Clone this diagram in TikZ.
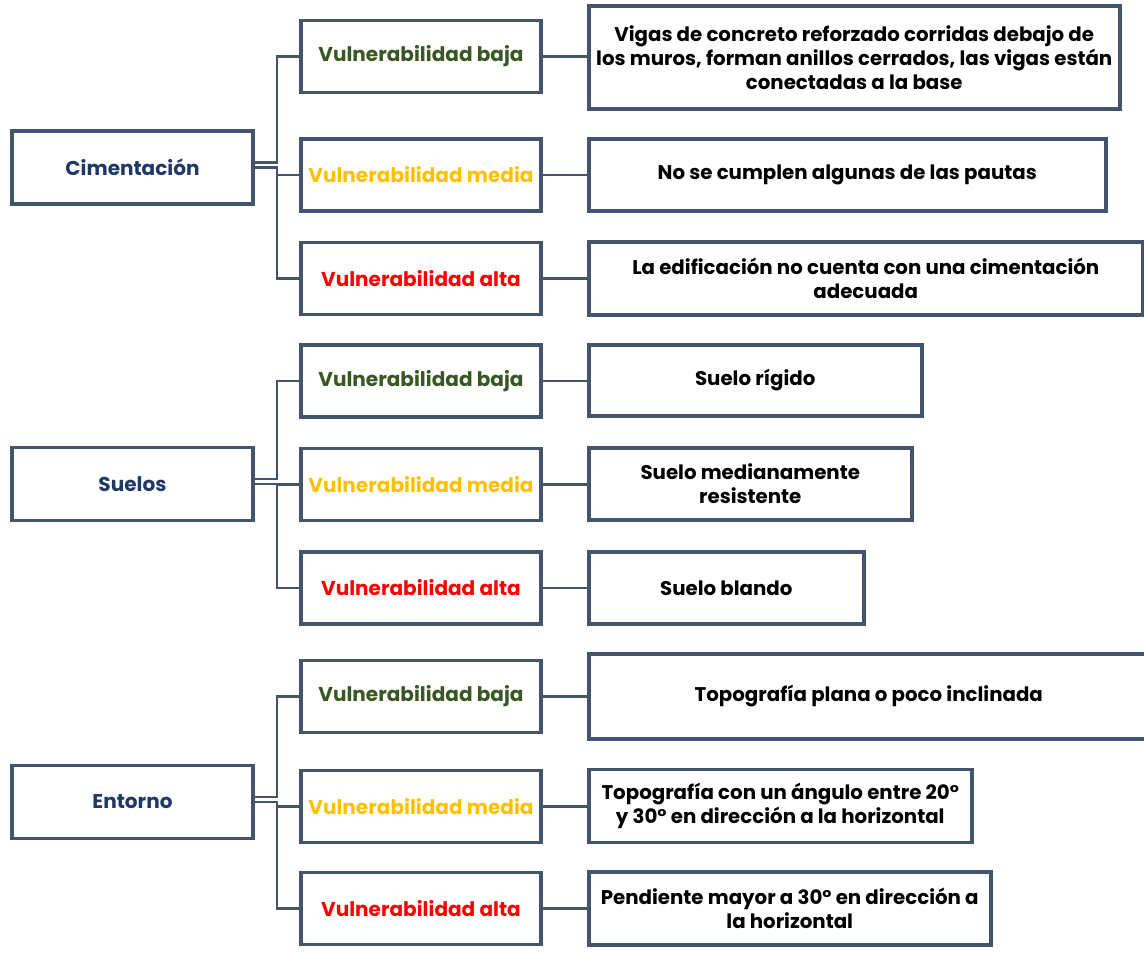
\documentclass[tikz,border=0pt]{standalone}
\usepackage{fontspec}
\setmainfont{Poppins}
\usetikzlibrary{positioning}

\definecolor{edge}{HTML}{44546A}
\definecolor{rootblue}{HTML}{1F3864}
\definecolor{lowgreen}{HTML}{385723}
\definecolor{midyellow}{HTML}{FFC000}
\definecolor{highred}{HTML}{FF0000}

\tikzset{
  box/.style={draw=edge,line width=2pt,fill=white,inner sep=2pt,
    font=\fontsize{11.4}{13.6}\selectfont\bfseries},
  rootbox/.style={box,minimum width=4.82cm,minimum height=1.46cm,text=rootblue},
  levelbox/.style={box,minimum width=4.80cm,minimum height=1.44cm},
  descbox/.style={box,anchor=west,align=center,minimum height=1.44cm,inner sep=1pt,
    font=\fontsize{11.25}{13.6}\selectfont\bfseries},
  link/.style={draw=edge,line width=1.4pt},
  baja/.style={levelbox,text=lowgreen},
  media/.style={levelbox,text=midyellow},
  alta/.style={levelbox,text=highred}
}

\begin{document}
\begin{tikzpicture}
  % Frame
  \useasboundingbox (0,0) rectangle (22.88,-19.04);

  % Roots
  \node[rootbox] (cim) at (2.65,-3.35) {Cimentación};
  \node[rootbox] (sue) at (2.65,-9.68) {Suelos};
  \node[rootbox] (ent) at (2.65,-16.04) {Entorno};

  % Levels
  \node[baja]  (cimb) at (8.42,-1.13) {Vulnerabilidad baja};
  \node[media] (cimm) at (8.42,-3.50) {Vulnerabilidad media};
  \node[alta]  (cima) at (8.42,-5.57) {Vulnerabilidad alta};
  \node[baja]  (sueb) at (8.42,-7.62) {Vulnerabilidad baja};
  \node[media] (suem) at (8.42,-9.69) {Vulnerabilidad media};
  \node[alta]  (suea) at (8.42,-11.76) {Vulnerabilidad alta};
  \node[baja]  (entb) at (8.42,-13.93) {Vulnerabilidad baja};
  \node[media] (entm) at (8.42,-16.13) {Vulnerabilidad media};
  \node[alta]  (enta) at (8.42,-18.17) {Vulnerabilidad alta};

  % Descriptions
  \node[descbox,minimum width=10.62cm,minimum height=2.06cm] (dcimb) at (11.74,-1.15)
    {Vigas de concreto reforzado corridas debajo de\\los muros, forman anillos cerrados, las vigas están\\conectadas a la base};
  \node[descbox,minimum width=10.34cm] (dcimm) at (11.74,-3.50) {No se cumplen algunas de las pautas};
  \node[descbox,minimum width=11.08cm,minimum height=1.46cm] (dcima) at (11.74,-5.57)
    {La edificación no cuenta con una cimentación\\adecuada};
  \node[descbox,minimum width=6.66cm,minimum height=1.42cm] (dsueb) at (11.74,-7.61) {Suelo rígido};
  \node[descbox,minimum width=6.46cm] (dsuem) at (11.74,-9.68) {Suelo medianamente\\resistente};
  \node[descbox,minimum width=5.50cm] (dsuea) at (11.74,-11.76) {Suelo blando};
  \node[descbox,minimum width=11.60cm,minimum height=1.70cm] (dentb) at (11.74,-13.93) {\hspace*{-0.4cm}Topografía plana o poco inclinada};
  \node[descbox,minimum width=7.66cm,minimum height=1.46cm] (dentm) at (11.74,-16.12)
    {Topografía con un ángulo entre 20°\\y 30° en dirección a la horizontal};
  \node[descbox,minimum width=8.04cm,minimum height=1.46cm] (denta) at (11.74,-18.17)
    {Pendiente mayor a 30° en dirección a\\la horizontal};

  % Root connectors
  \foreach \r in {cim,sue,ent}{
    \draw[link] ([yshift=0.1cm]\r.east) -- ++(0.44,0) |- (\r b.west);
    \draw[link] (\r.east) -- ++(0.44,0) |- (\r m.west);
    \draw[link] (\r.east) -- ++(0.44,0) |- (\r a.west);
  }

  % Level connectors
  \foreach \n in {cimb,cimm,cima,sueb,suem,suea,entb,entm,enta}
    \draw[link] (\n.east) -- (\n.east -| d\n.west);

\end{tikzpicture}
\end{document}
